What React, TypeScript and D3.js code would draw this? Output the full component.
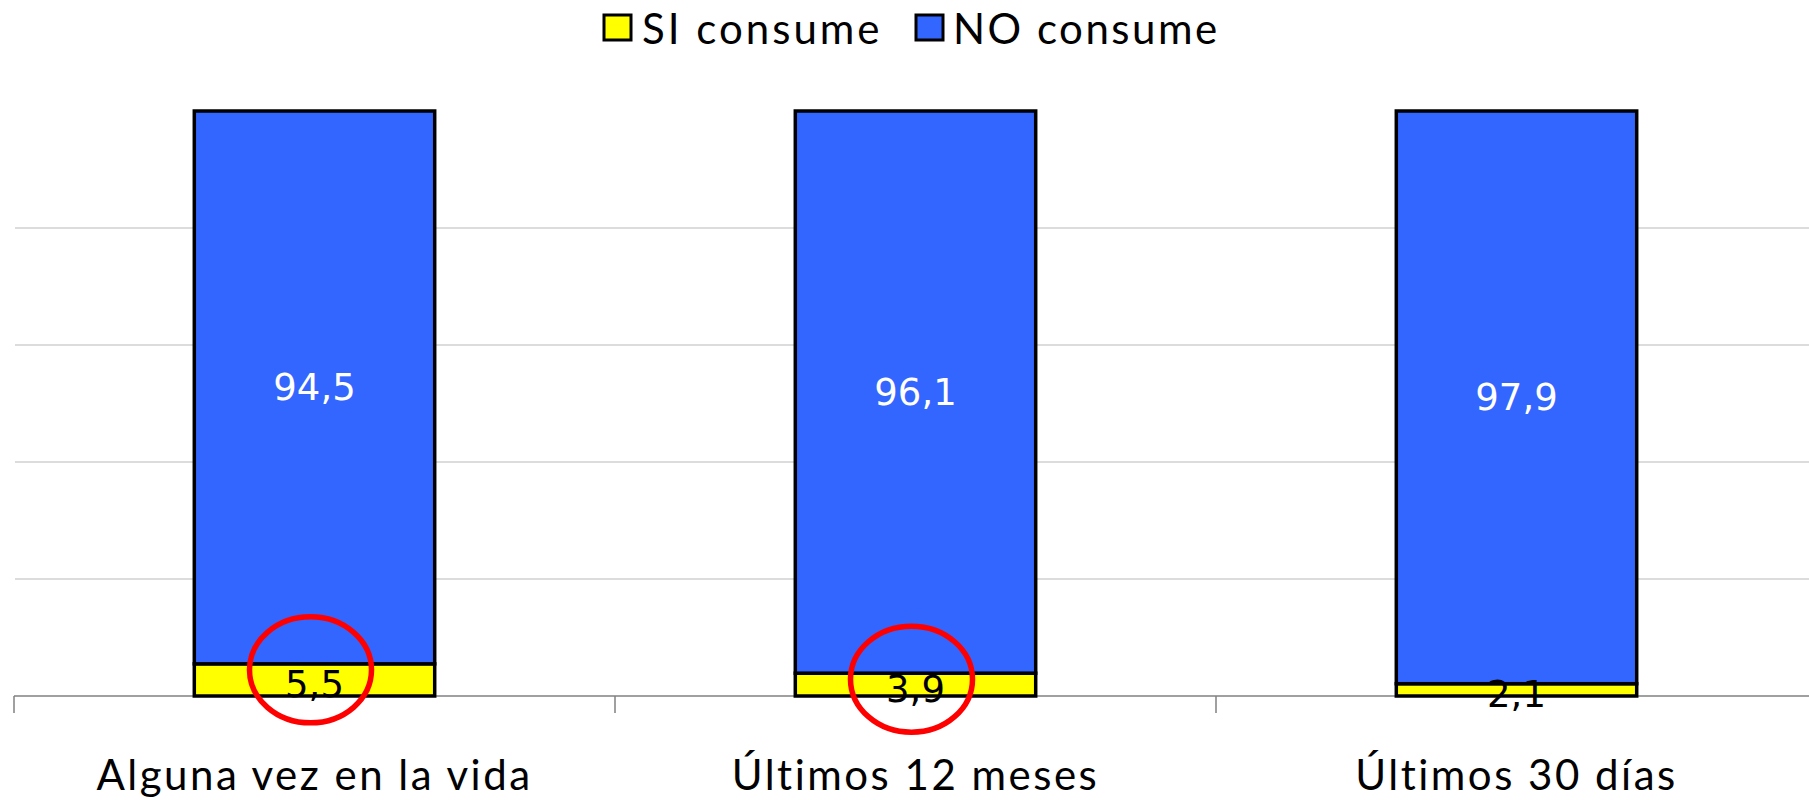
import React from "react";
import * as d3 from "d3";

const categories = ["Alguna vez en la vida", "Últimos 12 meses", "Últimos 30 días"];
const siConsume = [5.5, 3.9, 2.1];
const noConsume = [94.5, 96.1, 97.9];
const highlighted = [true, true, false];
const seriesNames = ["SI consume", "NO consume"];
const seriesColors = ["#FFFF00", "#3366FF"];
const gridValues = [20, 40, 60, 80];

const W = 1809;
const H = 800;

export default function App() {
  const x = d3.scaleBand<string>().domain(categories).range([14, 1817]).paddingInner(0.6).paddingOuter(0.3);
  const band = d3.scaleBand<string>().domain(categories).range([14, 1817]).padding(0);
  const y = d3.scaleLinear().domain([0, 100]).range([696, 111]);
  const fmt = (v: number) => v.toFixed(1).replace(".", ",");
  const textFont = "Lato, 'Open Sans', sans-serif";
  const labelFont = "'DejaVu Sans', Verdana, sans-serif";

  const stacked = categories.map((c, i) => ({ c, si: siConsume[i], no: noConsume[i], hl: highlighted[i] }));
  const boundaries = [...categories.map((c) => band(c)!), band.range()[1]];

  return (
    <svg width={W} height={H} style={{ position: "absolute", left: 0, top: 0, background: "#fff" }}>
      {gridValues.map((g) => (
        <line key={g} x1={15} x2={W} y1={y(g)} y2={y(g)} stroke="#d0d0d0" strokeWidth={1.3} />
      ))}
      <line x1={14} x2={W} y1={y(0)} y2={y(0)} stroke="#808080" strokeWidth={1.5} />
      {boundaries.map((b, i) => (
        <line key={i} x1={b} x2={b} y1={y(0)} y2={y(0) + 17} stroke="#808080" strokeWidth={1.5} />
      ))}
      {stacked.map((d) => (
        <g key={d.c}>
          <rect x={x(d.c)} y={y(d.si)} width={x.bandwidth()} height={y(0) - y(d.si)} fill={seriesColors[0]} stroke="#000" strokeWidth={3.5} />
          <rect x={x(d.c)} y={y(d.si + d.no)} width={x.bandwidth()} height={y(d.si) - y(d.si + d.no)} fill={seriesColors[1]} stroke="#000" strokeWidth={3.5} />
        </g>
      ))}
      {stacked.map((d) => {
        const cx = x(d.c)! + x.bandwidth() / 2;
        return (
          <g key={d.c + "l"}>
            <text x={cx} y={y(d.si + d.no / 2)} textAnchor="middle" dominantBaseline="central" fill="#fff" fontFamily={labelFont} fontSize={37}>
              {fmt(d.no)}
            </text>
            <text x={cx} y={y(d.si / 2) + 5} textAnchor="middle" dominantBaseline="central" fill="#000" fontFamily={labelFont} fontSize={37}>
              {fmt(d.si)}
            </text>
            {d.hl && (
              <ellipse cx={cx - 4} cy={y(d.si) + 6} rx={61} ry={53} fill="none" stroke="#FF0000" strokeWidth={5.5} />
            )}
          </g>
        );
      })}
      {categories.map((c) => (
        <text key={c} x={band(c)! + band.bandwidth() / 2} y={790} textAnchor="middle" fontFamily={textFont} fontSize={42} letterSpacing={2.5} fill="#000">
          {c}
        </text>
      ))}
      <g>
        <rect x={604} y={15} width={27} height={25} fill={seriesColors[0]} stroke="#000" strokeWidth={3} />
        <text x={642} y={44} fontFamily={textFont} fontSize={42} letterSpacing={3} fill="#000">{seriesNames[0]}</text>
        <rect x={916} y={15} width={27} height={25} fill={seriesColors[1]} stroke="#000" strokeWidth={3} />
        <text x={953} y={44} fontFamily={textFont} fontSize={42} letterSpacing={2.5} fill="#000">{seriesNames[1]}</text>
      </g>
    </svg>
  );
}
